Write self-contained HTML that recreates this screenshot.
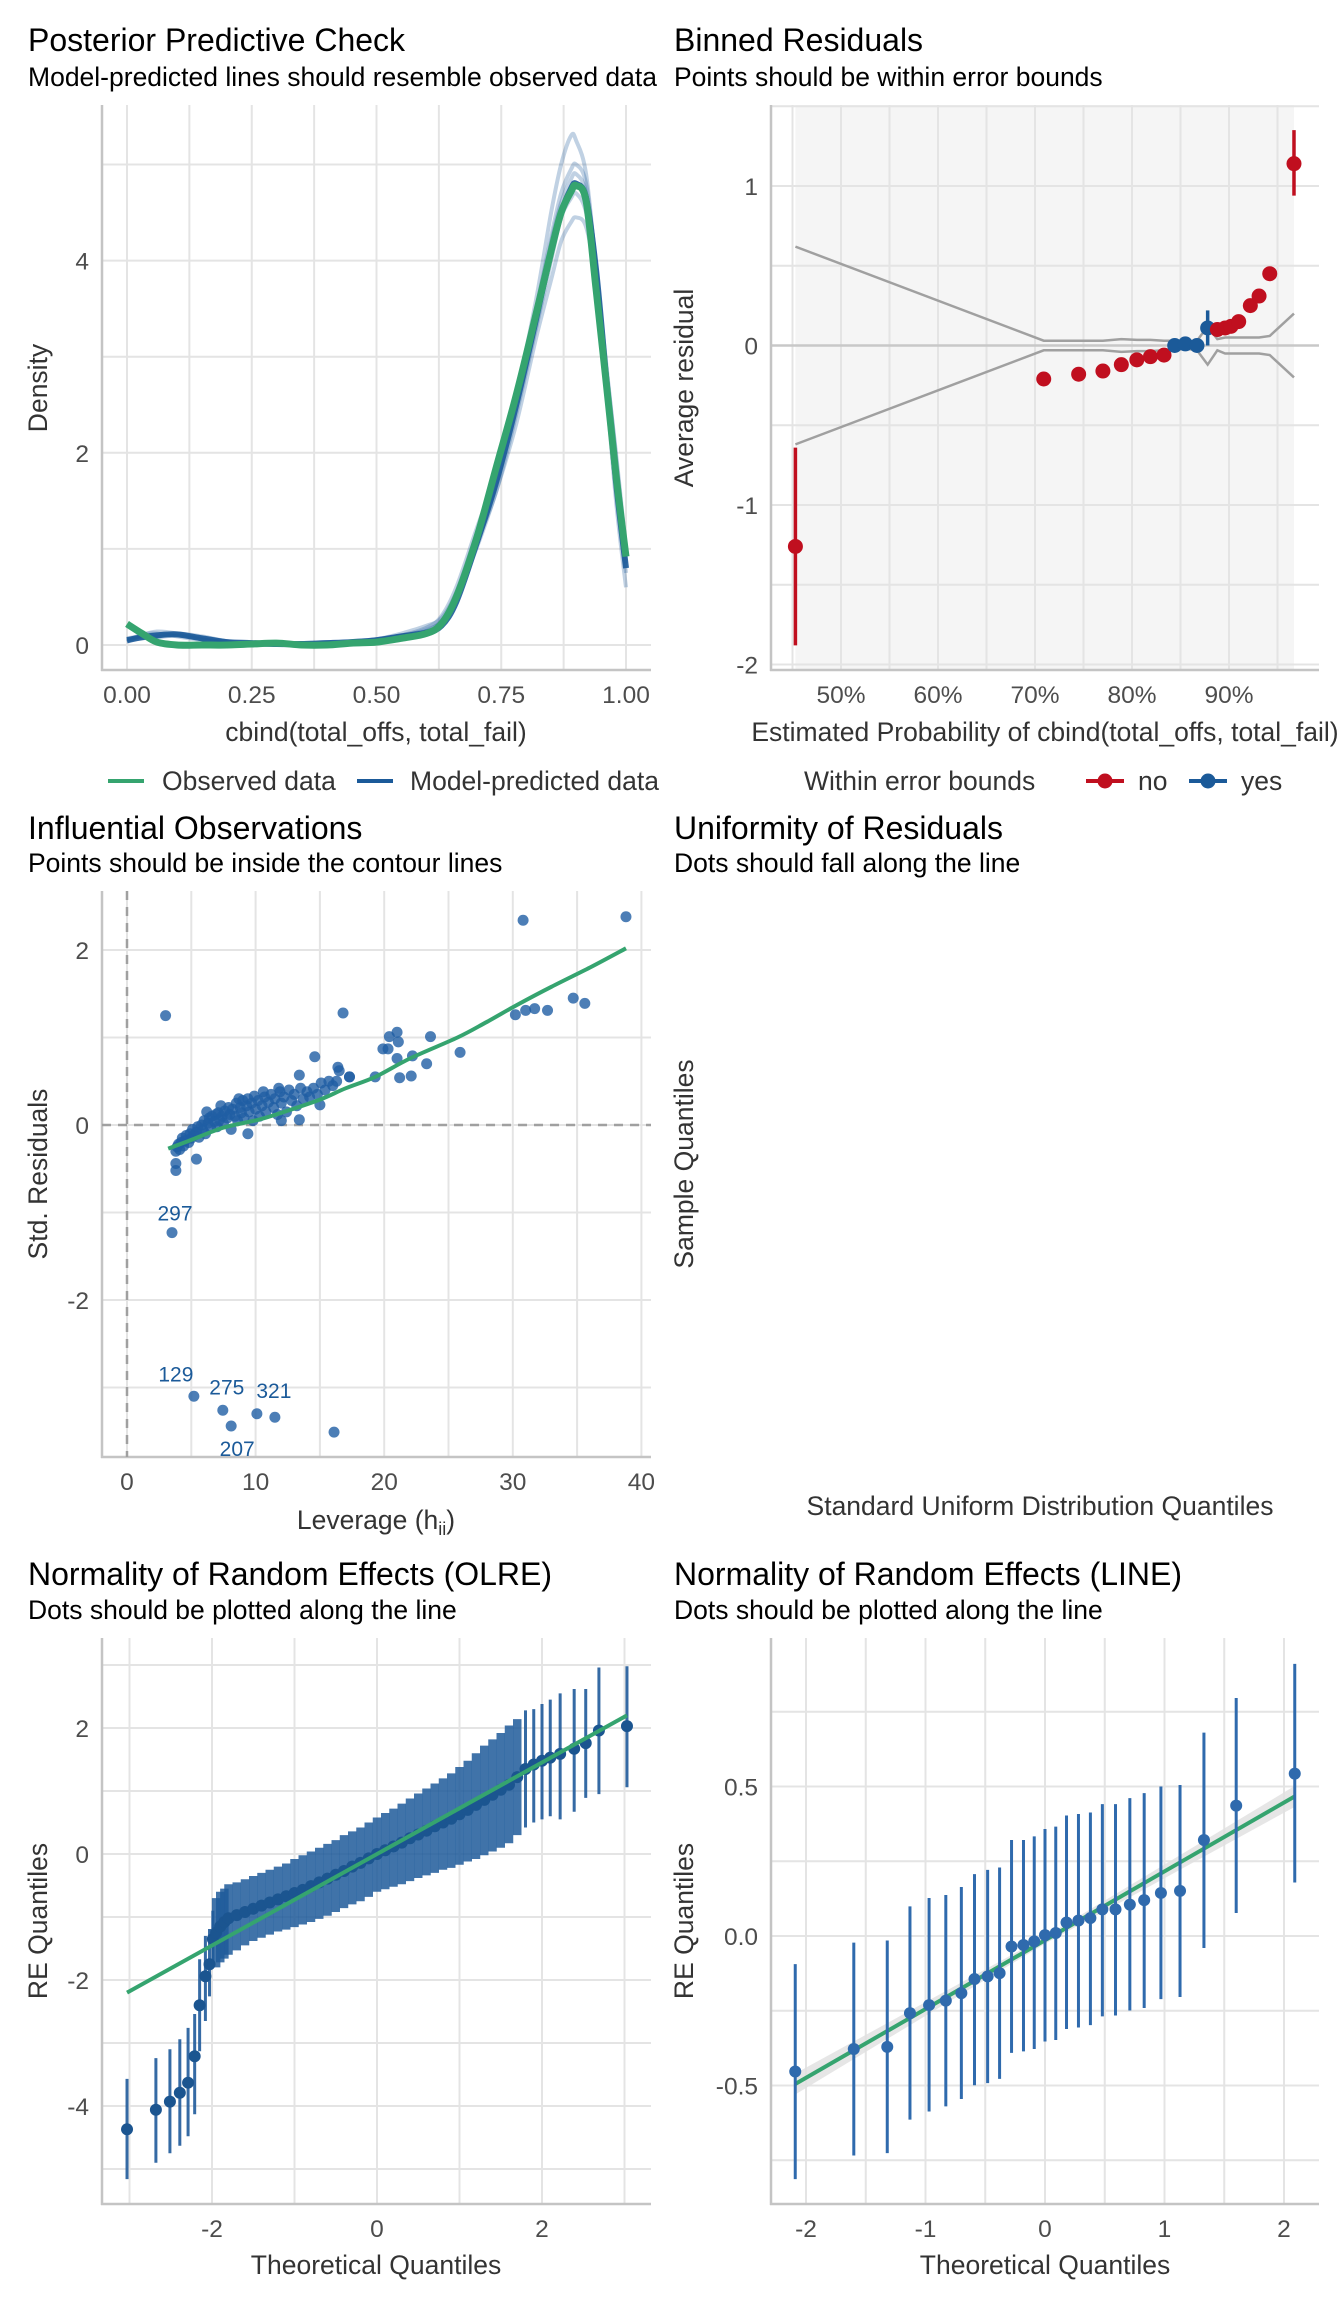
<!DOCTYPE html>
<html><head><meta charset="utf-8">
<style>
html,body{margin:0;padding:0;background:#fff;}
svg{display:block;font-family:"Liberation Sans",Arial,sans-serif;}
.t{font-size:32px;fill:#000;}
.s{font-size:26.5px;fill:#000;}
.tk{font-size:24.5px;fill:#4d4d4d;}
.ax{font-size:26.5px;fill:#333;}
.lg{font-size:26.5px;fill:#333;}
</style></head>
<body>
<svg id="root" width="1344" height="2304" viewBox="0 0 1344 2304" xmlns="http://www.w3.org/2000/svg">
<rect width="1344" height="2304" fill="#fff"/>
<text class="t" x="28" y="51">Posterior Predictive Check</text>
<text class="s" x="28" y="86">Model-predicted lines should resemble observed data</text>
<text class="t" x="674" y="51">Binned Residuals</text>
<text class="s" x="674" y="86">Points should be within error bounds</text>
<text class="t" x="28" y="839">Influential Observations</text>
<text class="s" x="28" y="872">Points should be inside the contour lines</text>
<text class="t" x="674" y="839">Uniformity of Residuals</text>
<text class="s" x="674" y="872">Dots should fall along the line</text>
<text class="t" x="28" y="1585">Normality of Random Effects (OLRE)</text>
<text class="s" x="28" y="1619">Dots should be plotted along the line</text>
<text class="t" x="674" y="1585">Normality of Random Effects (LINE)</text>
<text class="s" x="674" y="1619">Dots should be plotted along the line</text>
<text class="ax" x="376" y="741" text-anchor="middle">cbind(total_offs, total_fail)</text>
<text class="ax" transform="translate(47,388) rotate(-90)" text-anchor="middle">Density</text>
<text class="ax" x="1045" y="741" text-anchor="middle">Estimated Probability of cbind(total_offs, total_fail)</text>
<text class="ax" transform="translate(693,388) rotate(-90)" text-anchor="middle">Average residual</text>
<text class="ax" x="376" y="1529" text-anchor="middle">Leverage (h<tspan font-size="18" dy="6">ii</tspan><tspan dy="-6">)</tspan></text>
<text class="ax" transform="translate(47,1174) rotate(-90)" text-anchor="middle">Std. Residuals</text>
<text class="ax" x="1040" y="1515" text-anchor="middle">Standard Uniform Distribution Quantiles</text>
<text class="ax" transform="translate(693,1164) rotate(-90)" text-anchor="middle">Sample Quantiles</text>
<text class="ax" x="376" y="2274" text-anchor="middle">Theoretical Quantiles</text>
<text class="ax" transform="translate(47,1921) rotate(-90)" text-anchor="middle">RE Quantiles</text>
<text class="ax" x="1045" y="2274" text-anchor="middle">Theoretical Quantiles</text>
<text class="ax" transform="translate(693,1921) rotate(-90)" text-anchor="middle">RE Quantiles</text>
<g>
<line x1="108" y1="781" x2="144" y2="781" stroke="#35a46f" stroke-width="4"/>
<text class="lg" x="162" y="790">Observed data</text>
<line x1="357" y1="781" x2="393" y2="781" stroke="#1b5a99" stroke-width="4"/>
<text class="lg" x="410" y="790">Model-predicted data</text>
</g>
<g>
<text class="lg" x="804" y="790">Within error bounds</text>
<line x1="1086" y1="781" x2="1124" y2="781" stroke="#c00f1f" stroke-width="4"/>
<circle cx="1105" cy="781" r="7.5" fill="#c00f1f"/>
<text class="lg" x="1138" y="790">no</text>
<line x1="1189" y1="781" x2="1227" y2="781" stroke="#1b5a99" stroke-width="4"/>
<circle cx="1208" cy="781" r="7.5" fill="#1b5a99"/>
<text class="lg" x="1241" y="790">yes</text>
</g>
</svg>
<script>
var ppcX = [0,0.03,0.06,0.1,0.15,0.2,0.25,0.3,0.35,0.4,0.45,0.5,0.55,0.6,0.63,0.66,0.7,0.74,0.78,0.82,0.85,0.87,0.89,0.9,0.92,0.94,0.96,0.98,1.0];
var ppcObserved = [0.22,0.12,0.03,0.0,0.0,0.0,0.01,0.02,0.0,0.0,0.02,0.03,0.07,0.12,0.22,0.5,1.1,1.85,2.6,3.45,4.1,4.5,4.72,4.78,4.62,3.7,2.75,1.77,0.92];
var ppcPred1 = [0.05,0.08,0.1,0.11,0.07,0.03,0.02,0.01,0.01,0.02,0.03,0.05,0.09,0.13,0.2,0.45,1.05,1.7,2.5,3.4,4.1,4.5,4.75,4.8,4.65,3.9,2.8,1.7,0.8];
var ppcPred2 = [0.03,0.1,0.14,0.12,0.06,0.03,0.01,0.02,0.02,0.02,0.03,0.06,0.1,0.18,0.3,0.6,1.2,1.8,2.6,3.6,4.5,5.0,5.3,5.25,4.9,3.9,2.7,1.5,0.6];
var ppcPred3 = [0.07,0.09,0.08,0.1,0.08,0.04,0.03,0.01,0.0,0.02,0.04,0.05,0.1,0.15,0.25,0.5,1.0,1.6,2.3,3.2,3.8,4.2,4.4,4.45,4.35,3.8,2.9,2.0,1.0];
var ppcPred4 = [0.04,0.11,0.12,0.09,0.05,0.02,0.02,0.02,0.01,0.01,0.04,0.06,0.12,0.2,0.28,0.55,1.15,1.75,2.55,3.5,4.25,4.7,4.95,5.0,4.8,3.95,2.85,1.8,0.85];
var ppcPred5 = [0.06,0.07,0.09,0.12,0.09,0.04,0.01,0.01,0.02,0.03,0.02,0.04,0.08,0.14,0.22,0.48,1.05,1.6,2.4,3.3,4.0,4.45,4.65,4.7,4.5,3.85,2.95,1.95,0.95];
var ppcPred6 = [0.05,0.09,0.1,0.1,0.06,0.03,0.02,0.01,0.01,0.02,0.03,0.05,0.09,0.16,0.24,0.5,1.1,1.7,2.5,3.45,4.2,4.6,4.85,4.9,4.7,3.9,2.8,1.75,0.75];
var ppcXTicks = [0,0.25,0.5,0.75,1.0];
var ppcXTickLabels = ["0.00","0.25","0.50","0.75","1.00"];
var ppcYTicks = [0,2,4];

var binProb = [45.3,70.9,74.5,77,78.9,80.5,81.9,83.3,84.4,85.5,86.7,87.8,88.8,89.6,90.2,91,92.2,93.1,94.2,96.7];
var binResid = [-1.26,-0.21,-0.18,-0.16,-0.12,-0.09,-0.07,-0.06,0,0.01,0,0.11,0.1,0.11,0.12,0.15,0.25,0.31,0.45,1.14];
var binErrLo = [-1.88,null,null,null,null,null,null,null,null,null,null,0,null,null,null,null,null,null,null,0.94];
var binErrHi = [-0.64,null,null,null,null,null,null,null,null,null,null,0.22,null,null,null,null,null,null,null,1.35];
var binInside = ["no","no","no","no","no","no","no","no","yes","yes","yes","yes","no","no","no","no","no","no","no","no"];
var boundUpper = [0.62,0.03,0.03,0.03,0.04,0.035,0.035,0.03,0.03,0.02,0.03,0.12,0.04,0.05,0.05,0.05,0.05,0.05,0.06,0.2];
var boundLower = [-0.62,-0.03,-0.03,-0.03,-0.04,-0.035,-0.035,-0.03,-0.03,-0.02,-0.03,-0.12,-0.03,-0.05,-0.05,-0.05,-0.05,-0.05,-0.06,-0.2];
var binXTicks = [50,60,70,80,90];
var binXTickLabels = ["50%","60%","70%","80%","90%"];
var binYTicks = [-2,-1,0,1];

var levX = [3.0,3.5,5.2,7.45,8.1,10.1,11.5,16.1,30.8,38.8,16.8,30.2,31,31.7,32.7,34.7,35.6,25.9,23.6,23.3,22.1,22.2,21.2,21,21.1,21,20.4,19.9,20.3,19.3,17.3,16.4,14.6,15,13.4,12,13.4,3.8,3.8,5.4,9.4,
3.8,3.9,4.0,4.1,4.2,4.3,4.4,4.5,4.6,4.8,4.9,5.0,5.1,5.2,5.4,5.5,5.6,5.8,5.9,6.0,6.1,6.3,6.4,6.5,6.6,6.8,6.9,7.0,7.1,7.2,7.4,7.5,7.6,7.8,7.9,8.0,8.1,8.2,8.4,8.5,8.6,8.8,8.9,9.0,9.1,9.3,9.4,9.5,9.7,9.8,9.9,10.0,10.2,10.3,10.5,10.7,10.8,11.0,11.2,11.4,11.5,11.7,11.9,12.0,12.2,12.4,12.6,12.8,13.0,13.2,13.5,13.7,14.0,14.2,14.5,14.8,15.1,15.4,15.7,16.0,16.3,16.5,17.3,6.2,7.3,8.7,10.6,11.8];
var levRes = [1.25,-1.23,-3.10,-3.26,-3.44,-3.30,-3.34,-3.51,2.34,2.38,1.28,1.26,1.31,1.33,1.31,1.45,1.39,0.83,1.01,0.70,0.56,0.79,0.54,0.76,0.95,1.06,1.01,0.87,0.87,0.55,0.55,0.66,0.78,0.23,0.06,0.05,0.57,-0.52,-0.44,-0.39,-0.10,
-0.3,-0.25,-0.22,-0.28,-0.2,-0.15,-0.24,-0.18,-0.12,-0.2,-0.1,-0.15,-0.05,-0.12,-0.08,-0.02,-0.14,0.0,-0.06,0.05,-0.1,0.02,0.08,-0.03,0.1,0.04,0.12,-0.02,0.14,0.06,0.1,0.02,0.16,0.08,0.2,0.12,-0.05,0.18,0.1,0.25,0.05,0.2,0.14,0.28,0.08,0.22,0.3,0.15,0.25,0.05,0.33,0.18,0.28,0.1,0.22,0.32,0.15,0.26,0.35,0.2,0.3,0.12,0.38,0.25,0.32,0.15,0.4,0.28,0.35,0.22,0.42,0.3,0.38,0.32,0.42,0.35,0.48,0.4,0.5,0.45,0.5,0.62,0.55,0.15,0.22,0.3,0.38,0.42];
var loessX = [3.2,5,7.5,10.2,12,15,17,19.3,22,25.7,28,30.3,33,36,38.8];
var loessY = [-0.27,-0.17,-0.03,0.06,0.14,0.29,0.42,0.55,0.76,1.0,1.18,1.37,1.58,1.8,2.02];
var labelIds = ["297","129","275","321","207"];
var labelLev = [3.5,5.2,7.45,10.1,8.1];
var labelRes = [-1.23,-3.10,-3.26,-3.30,-3.44];
var infXTicks = [0,10,20,30,40];
var infYTicks = [-2,0,2];

var olreX = [-3.03,-2.68,-2.51,-2.39,-2.29,-2.21,-2.15,-2.08,-2.03,-1.99,-1.95,-1.9,-1.85,-1.8,-1.7,-1.6,-1.5,-1.4,-1.3,-1.2,-1.1,-1.0,-0.9,-0.8,-0.7,-0.6,-0.5,-0.4,-0.3,-0.2,-0.1,0,0.1,0.2,0.3,0.4,0.5,0.6,0.7,0.8,0.9,1.0,1.1,1.2,1.3,1.4,1.5,1.6,1.7,1.8,1.9,2.0,2.1,2.22,2.39,2.53,2.69,3.03];
var olreY = [-4.37,-4.06,-3.93,-3.79,-3.63,-3.21,-2.4,-1.94,-1.75,-1.35,-1.25,-1.15,-1.08,-1.02,-0.97,-0.92,-0.87,-0.82,-0.77,-0.72,-0.67,-0.62,-0.57,-0.51,-0.45,-0.39,-0.33,-0.27,-0.2,-0.14,-0.07,0.0,0.06,0.12,0.18,0.25,0.31,0.37,0.44,0.5,0.56,0.63,0.7,0.78,0.86,0.94,1.02,1.1,1.22,1.35,1.42,1.48,1.53,1.59,1.67,1.76,1.96,2.03];
var olreLo = [-5.16,-4.9,-4.75,-4.63,-4.48,-4.13,-3.13,-2.65,-2.26,-1.78,-1.8,-1.72,-1.66,-1.6,-1.53,-1.45,-1.38,-1.33,-1.28,-1.23,-1.2,-1.16,-1.12,-1.08,-1.03,-0.98,-0.92,-0.86,-0.8,-0.75,-0.68,-0.6,-0.56,-0.52,-0.48,-0.43,-0.38,-0.34,-0.3,-0.25,-0.22,-0.17,-0.12,-0.08,-0.02,0.04,0.1,0.17,0.3,0.42,0.5,0.55,0.6,0.55,0.67,0.89,0.95,1.06];
var olreHi = [-3.57,-3.24,-3.1,-2.94,-2.76,-2.54,-1.67,-1.3,-1.19,-0.9,-0.7,-0.6,-0.55,-0.48,-0.45,-0.4,-0.35,-0.3,-0.25,-0.2,-0.15,-0.08,-0.02,0.04,0.1,0.16,0.22,0.3,0.36,0.42,0.5,0.58,0.65,0.72,0.8,0.88,0.96,1.04,1.12,1.2,1.28,1.38,1.48,1.6,1.72,1.82,1.92,2.04,2.14,2.28,2.3,2.38,2.45,2.55,2.62,2.62,2.96,2.98];
var olreLineX = [-3.03,3.03];
var olreLineY = [-2.2,2.2];
var olreXTicks = [-2,0,2];
var olreYTicks = [-4,-2,0,2];

var lineX = [-2.09,-1.60,-1.32,-1.13,-0.97,-0.83,-0.70,-0.59,-0.48,-0.38,-0.28,-0.18,-0.09,0.0,0.09,0.18,0.28,0.38,0.48,0.59,0.71,0.83,0.97,1.13,1.33,1.60,2.09];
var lineY = [-0.453,-0.378,-0.371,-0.258,-0.231,-0.216,-0.191,-0.144,-0.135,-0.124,-0.035,-0.030,-0.018,0.003,0.01,0.045,0.052,0.06,0.089,0.089,0.105,0.12,0.144,0.151,0.321,0.436,0.543];
var lineLo = [-0.813,-0.734,-0.726,-0.614,-0.587,-0.57,-0.545,-0.499,-0.492,-0.478,-0.391,-0.386,-0.378,-0.353,-0.348,-0.311,-0.306,-0.298,-0.269,-0.266,-0.249,-0.241,-0.211,-0.204,-0.04,0.077,0.179];
var lineHi = [-0.094,-0.022,-0.015,0.099,0.127,0.137,0.164,0.207,0.221,0.229,0.321,0.321,0.333,0.358,0.366,0.403,0.408,0.413,0.441,0.441,0.461,0.478,0.5,0.505,0.68,0.796,0.91];
var lineFitX = [-2.09,2.09];
var lineFitY = [-0.495,0.467];
var lineXTicks = [-2,-1,0,1,2];
var lineYTicks = [-0.5,0,0.5];
var lineYTickLabels = ["-0.5","0.0","0.5"];

var NS = "http://www.w3.org/2000/svg";
var root = document.getElementById("root");
function mk(tag, attrs, parent) {
  var el = document.createElementNS(NS, tag);
  for (var k in attrs) el.setAttribute(k, attrs[k]);
  (parent || root).appendChild(el);
  return el;
}
function group(name) {
  var g = mk("g", {});
  
  
  return g;
}
function smoothPath(px, py) {
  var d = "M" + px[0].toFixed(1) + "," + py[0].toFixed(1);
  for (var i = 0; i < px.length - 1; i++) {
    var x0 = px[Math.max(i - 1, 0)], y0 = py[Math.max(i - 1, 0)];
    var x1 = px[i], y1 = py[i], x2 = px[i + 1], y2 = py[i + 1];
    var x3 = px[Math.min(i + 2, px.length - 1)], y3 = py[Math.min(i + 2, px.length - 1)];
    d += " C" + (x1 + (x2 - x0) / 6).toFixed(1) + "," + (y1 + (y2 - y0) / 6).toFixed(1) + " " +
      (x2 - (x3 - x1) / 6).toFixed(1) + "," + (y2 - (y3 - y1) / 6).toFixed(1) + " " + x2.toFixed(1) + "," + y2.toFixed(1);
  }
  return d;
}
var GRID = "#e4e4e4", AXIS = "#c4c4c4";
function frame(name, L, T, R, B, xs, ys, sx, sy) {
  var g = group(name + "-grid");
  xs.forEach(function (v) {
    var el = mk("line", {x1: sx(v), x2: sx(v), y1: T, y2: B, stroke: GRID, "stroke-width": 2}, g);
    
    
  });
  ys.forEach(function (v) {
    var el = mk("line", {x1: L, x2: R, y1: sy(v), y2: sy(v), stroke: GRID, "stroke-width": 2}, g);
    
    
  });
}
function axes(name, L, T, R, B) {
  var a = mk("line", {x1: L, x2: L, y1: T, y2: B + 1, stroke: AXIS, "stroke-width": 2.5});
  
  
  var b = mk("line", {x1: L - 1, x2: R, y1: B, y2: B, stroke: AXIS, "stroke-width": 2.5});
  
  
}
function ticks(name, L, B, xs, xl, ys, yl, sx, sy) {
  xs.forEach(function (v, i) {
    var t = mk("text", {x: sx(v), y: B + 33, "text-anchor": "middle", "class": "tk"});
    t.textContent = xl[i];
    
    
  });
  ys.forEach(function (v, i) {
    var t = mk("text", {x: L - 13, y: sy(v) + 9, "text-anchor": "end", "class": "tk"});
    t.textContent = yl[i];
    
    
  });
}
function range(a, b, s) { var r = []; for (var v = a; v <= b + 1e-9; v += s) r.push(+v.toFixed(4)); return r; }

(function () {
  var L = 102, T = 105, R = 651, B = 670;
  var sx = function (v) { return 127 + v * 499; };
  var sy = function (v) { return 645 - v * 96.1; };
  frame("ppc", L, T, R, B, range(0, 1, 0.125), range(0, 5, 1), sx, sy);
  axes("ppc", L, T, R, B);
  ticks("ppc", L, B, ppcXTicks, ppcXTickLabels, ppcYTicks, ppcYTicks.map(String), sx, sy);
  var g = group("ppc-predicted-lines");
  [ppcPred2, ppcPred3, ppcPred4, ppcPred5, ppcPred6, ppcPred1].forEach(function (s, k) {
    var p = mk("path", {d: smoothPath(ppcX.map(sx), s.map(sy)), fill: "none", stroke: "#1b5a99", "stroke-width": k === 5 ? 6 : 4, "stroke-opacity": k === 5 ? 0.9 : 0.28}, g);
    
    
  });
  var o = mk("path", {d: smoothPath(ppcX.map(sx), ppcObserved.map(sy)), fill: "none", stroke: "#35a46f", "stroke-width": 7, "stroke-linejoin": "round"});
  
  
})();

(function () {
  var L = 771, T = 105, R = 1319, B = 670;
  var sx = function (p) { return 841 + (p - 50) * 9.7; };
  var sy = function (v) { return 345.5 - v * 159.5; };
  var band = mk("rect", {x: sx(binProb[0]), y: T, width: sx(binProb[binProb.length - 1]) - sx(binProb[0]), height: B - T, fill: "#f5f5f5"});
  
  
  frame("binned", L, T, R, B, range(45, 95, 5), range(-2, 1.5, 0.5), sx, sy);
  var z = mk("line", {x1: L, x2: R, y1: sy(0), y2: sy(0), stroke: "#c8c8c8", "stroke-width": 2.5});
  
  
  axes("binned", L, T, R, B);
  ticks("binned", L, B, binXTicks, binXTickLabels, binYTicks, binYTicks.map(String), sx, sy);
  var up = mk("polyline", {points: binProb.map(function (p, i) { return sx(p) + "," + sy(boundUpper[i]); }).join(" "), fill: "none", stroke: "#a0a0a0", "stroke-width": 2.5});
  
  
  var lo = mk("polyline", {points: binProb.map(function (p, i) { return sx(p) + "," + sy(boundLower[i]); }).join(" "), fill: "none", stroke: "#a0a0a0", "stroke-width": 2.5});
  
  
  var g = group("binned-points");
  binProb.forEach(function (p, i) {
    var col = binInside[i] === "yes" ? "#1b5a99" : "#c00f1f";
    if (binErrLo[i] !== null) {
      var e = mk("line", {x1: sx(p), x2: sx(p), y1: sy(binErrLo[i]), y2: sy(binErrHi[i]), stroke: col, "stroke-width": 3.5}, g);
      
      
    }
    var c = mk("circle", {cx: sx(p), cy: sy(binResid[i]), r: 7.5, fill: col}, g);
    
    
  });
})();

(function () {
  var L = 102, T = 891, R = 651, B = 1457;
  var sx = function (v) { return 127 + v * 12.86; };
  var sy = function (v) { return 1125 - v * 87.5; };
  frame("influential", L, T, R, B, range(0, 40, 5), range(-3, 2, 1), sx, sy);
  axes("influential", L, T, R, B);
  ticks("influential", L, B, infXTicks, infXTicks.map(String), infYTicks, infYTicks.map(String), sx, sy);
  var v = mk("line", {x1: sx(0), x2: sx(0), y1: T, y2: B, stroke: "#a0a0a0", "stroke-width": 2.5, "stroke-dasharray": "9,7"});
  
  
  var h = mk("line", {x1: L, x2: R, y1: sy(0), y2: sy(0), stroke: "#a0a0a0", "stroke-width": 2.5, "stroke-dasharray": "9,7"});
  
  
  var g = group("influential-points");
  levX.forEach(function (x, i) {
    var c = mk("circle", {cx: sx(x), cy: sy(levRes[i]), r: 5.5, fill: "#1f5ea4", "fill-opacity": 0.8}, g);
    
    
  });
  var lo = mk("path", {d: smoothPath(loessX.map(sx), loessY.map(sy)), fill: "none", stroke: "#35a46f", "stroke-width": 4});
  
  
  var offs = [[3, -20], [-18, -23], [4, -24], [17, -24], [6, 22]];
  labelIds.forEach(function (id, i) {
    var t = mk("text", {x: sx(labelLev[i]) + offs[i][0], y: sy(labelRes[i]) + offs[i][1] + 8, "text-anchor": "middle", "font-size": 21, fill: "#1b5a99"});
    t.textContent = id;
    
    
  });
})();

(function () {
  var L = 102, T = 1638, R = 651, B = 2204;
  var sx = function (v) { return 377 + v * 82.5; };
  var sy = function (v) { return 1854 - v * 63; };
  frame("olre", L, T, R, B, range(-3, 3, 1), range(-5, 3, 1), sx, sy);
  axes("olre", L, T, R, B);
  ticks("olre", L, B, olreXTicks, olreXTicks.map(String), olreYTicks, olreYTicks.map(String), sx, sy);
  var g = group("olre-points");
  olreX.forEach(function (x, i) {
    var dense = x > -1.97 && x < 1.75;
    var e = mk("line", {x1: sx(x), x2: sx(x), y1: sy(olreLo[i]), y2: sy(olreHi[i]), stroke: "#1f5a9a", "stroke-width": dense ? 8.5 : 3, "stroke-opacity": dense ? 0.85 : 0.9}, g);
    
    
  });
  olreX.forEach(function (x, i) {
    var c = mk("circle", {cx: sx(x), cy: sy(olreY[i]), r: 6, fill: "#1b5590"}, g);
    
    
  });
  var f = mk("line", {x1: sx(olreLineX[0]), y1: sy(olreLineY[0]), x2: sx(olreLineX[1]), y2: sy(olreLineY[1]), stroke: "#35a46f", "stroke-width": 4});
  
  
})();

(function () {
  var L = 771, T = 1638, R = 1319, B = 2204;
  var sx = function (v) { return 1045 + v * 119.5; };
  var sy = function (v) { return 1936 - v * 299; };
  frame("line", L, T, R, B, range(-2, 2, 0.5), range(-0.75, 0.75, 0.25), sx, sy);
  axes("line", L, T, R, B);
  ticks("line", L, B, lineXTicks, lineXTicks.map(String), lineYTicks, lineYTickLabels, sx, sy);
  var ci = mk("polygon", {points: [sx(lineFitX[0]) + "," + sy(lineFitY[0] + 0.035), sx(0) + "," + sy((lineFitY[0] + lineFitY[1]) / 2 + 0.012), sx(lineFitX[1]) + "," + sy(lineFitY[1] + 0.035), sx(lineFitX[1]) + "," + sy(lineFitY[1] - 0.035), sx(0) + "," + sy((lineFitY[0] + lineFitY[1]) / 2 - 0.012), sx(lineFitX[0]) + "," + sy(lineFitY[0] - 0.035)].join(" "), fill: "#e0e0e0", "fill-opacity": 0.8});
  
  
  var f = mk("line", {x1: sx(lineFitX[0]), y1: sy(lineFitY[0]), x2: sx(lineFitX[1]), y2: sy(lineFitY[1]), stroke: "#35a46f", "stroke-width": 4});
  
  
  var g = group("line-points");
  lineX.forEach(function (x, i) {
    var e = mk("line", {x1: sx(x), x2: sx(x), y1: sy(lineLo[i]), y2: sy(lineHi[i]), stroke: "#2f6aad", "stroke-width": 3}, g);
    
    
    var c = mk("circle", {cx: sx(x), cy: sy(lineY[i]), r: 6, fill: "#2f6aad"}, g);
    
    
  });
})();
</script>
</body></html>
